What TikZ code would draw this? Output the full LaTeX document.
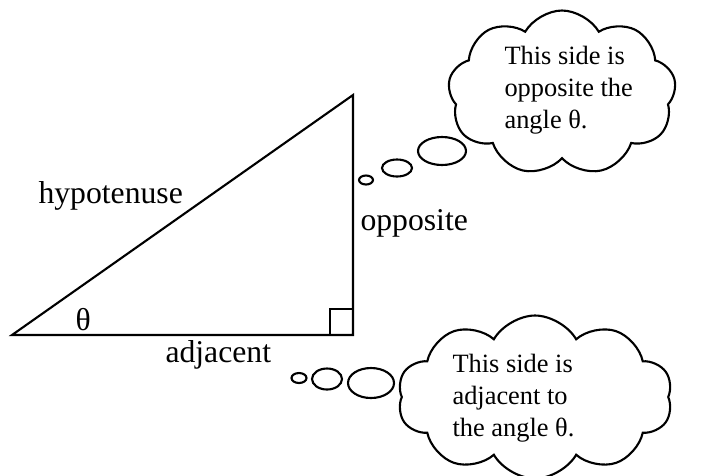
\documentclass[tikz,border=0pt]{standalone}
\usepackage{fontspec}
\setmainfont{Liberation Serif}
\usetikzlibrary{
	shapes.geometric,
	shapes.symbols,
	positioning
}

\begin{document}
\begin{tikzpicture}[
				x=0.3788pt, y=-0.3788pt,
				sidelabel/.style={
					inner sep=0, anchor=base west,
					font=\fontsize{12}{14}\selectfont
				},
				note/.style={
					inner sep=0, anchor=base west, align=left,
					font=\fontsize{10}{12}\selectfont
				},
				thought/.style={
					cloud, draw, line width=0.8pt, inner sep=0,
					cloud puffs=9, cloud puff arc=120
				},
				bubble/.style={
					ellipse, draw, line width=0.8pt, inner sep=0
				},
				side/.style={line width=0.8pt, black}
				]
				\useasboundingbox (0,0) rectangle (721,475);
				
				% corners of the triangle
				\coordinate (start) at (12,335);
				\coordinate (corner) at (353,335);
				\coordinate (apex) at (353,95);
				
				% sides
				\draw[side] (start) -- (corner) -- (apex) -- cycle;
				
				% right angle mark
				\draw[side] ([xshift=-23*0.3788pt]corner) |- ([yshift=26*0.3788pt]corner);
				
				% labels of the sides
				\node[sidelabel] (hyp) at (38,203) {hypotenuse};
				\node[sidelabel] (opp) at (360,230) {opposite};
				\node[sidelabel] (adj) at (165,362) {adjacent};
				\node[sidelabel] (theta) at (75,330) {θ};
				
				% thought about the opposite side
				\node[thought, aspect=1.38, minimum width=228*0.3788pt, minimum height=165*0.3788pt] (oppCloud) at (562,93) {};
				\node[note] (oppNote) at (504,128) {This side is\\opposite the\\angle θ.};
				\node[bubble, minimum width=48*0.3788pt, minimum height=28*0.3788pt] (oppBubA) at (442,151) {};
				\node[bubble, minimum width=30*0.3788pt, minimum height=17*0.3788pt] (oppBubB) at (397,168) {};
				\node[bubble, minimum width=14*0.3788pt, minimum height=9*0.3788pt] (oppBubC) at (366,180) {};
				
				% thought about the adjacent side
				\node[thought, cloud puffs=10, aspect=1.65, minimum width=275*0.3788pt, minimum height=163*0.3788pt] (adjCloud) at (535,397) {};
				\node[note] (adjNote) at (452,436) {This side is\\adjacent to\\the angle θ.};
				\node[bubble, minimum width=46*0.3788pt, minimum height=30*0.3788pt] (adjBubA) at (371,383) {};
				\node[bubble, minimum width=30*0.3788pt, minimum height=21*0.3788pt] (adjBubB) at (327,379) {};
				\node[bubble, minimum width=15*0.3788pt, minimum height=10*0.3788pt] (adjBubC) at (299,378) {};
			\end{tikzpicture}
\end{document}
